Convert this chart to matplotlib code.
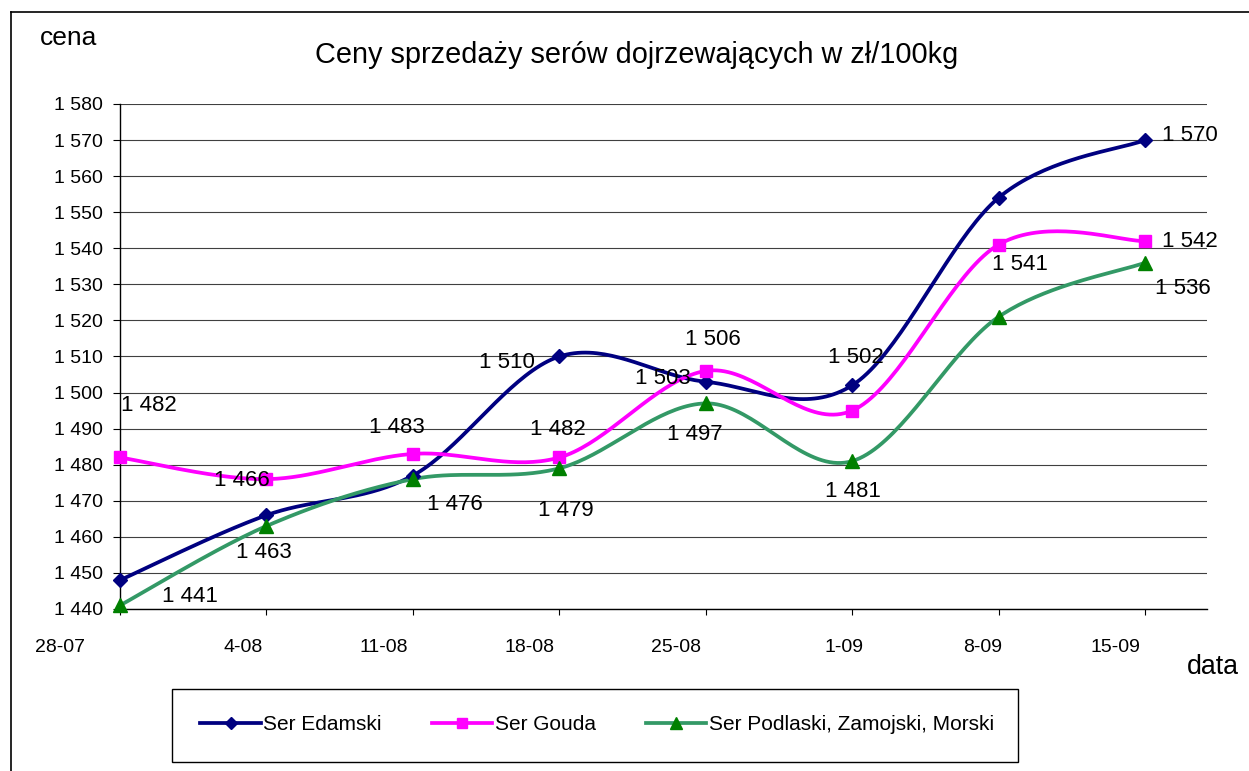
import numpy as np
import matplotlib
matplotlib.use("Agg")
import matplotlib.pyplot as plt
import matplotlib.transforms as mtransforms
from matplotlib.lines import Line2D
from matplotlib.patches import Rectangle

# ---------------- data ----------------
dates = ["28-07", "4-08", "11-08", "18-08", "25-08", "1-09", "8-09", "15-09"]
edamski = [1448, 1466, 1477, 1510, 1503, 1502, 1554, 1570]
gouda = [1482, 1476, 1483, 1482, 1506, 1495, 1541, 1542]
podlaski = [1441, 1463, 1476, 1479, 1497, 1481, 1521, 1536]
series_names = ["Ser Edamski", "Ser Gouda", "Ser Podlaski, Zamojski, Morski"]
title = "Ceny sprzedaży serów dojrzewających w zł/100kg"
y_label = "cena"
x_label = "data"
y_ticks = list(range(1440, 1581, 10))
# which points show a value label (index lists)
labels_edamski = [1, 3, 4, 5, 7]
labels_gouda = [0, 2, 3, 4, 6, 7]
labels_podlaski = [0, 1, 2, 3, 4, 5, 7]

plt.rcParams['font.family'] = ['Liberation Sans', 'DejaVu Sans']

W, H, DPI = 1249, 771, 100
fig = plt.figure(figsize=(W / DPI, H / DPI), dpi=DPI)

def fx(px):
    return px / W

def fy(py):
    return 1 - py / H

ax_l, ax_r, ax_t, ax_b = 120, 1207, 104, 609
ax = fig.add_axes([fx(ax_l), fy(ax_b), (ax_r - ax_l) / W, (ax_b - ax_t) / H])

n = len(dates)
step_px = (1145 - 120) / (n - 1)
ax.set_xlim(0, (ax_r - ax_l) / step_px)
ax.set_ylim(1440, 1580)


def smooth(vals, npts=40):
    P = np.column_stack([np.arange(len(vals), dtype=float), np.asarray(vals, dtype=float)])
    xs, ys = [], []
    t = np.linspace(0, 1, npts)[:, None]
    for i in range(len(P) - 1):
        P0 = P[i - 1] if i > 0 else P[i]
        P1 = P[i]
        P2 = P[i + 1]
        P3 = P[i + 2] if i + 2 < len(P) else P[i + 1]
        C1 = P1 + (P2 - P0) / 6.0
        C2 = P2 - (P3 - P1) / 6.0
        B = ((1 - t) ** 3) * P1 + 3 * ((1 - t) ** 2) * t * C1 + 3 * (1 - t) * t ** 2 * C2 + t ** 3 * P2
        xs.append(B[:, 0])
        ys.append(B[:, 1])
    return np.concatenate(xs), np.concatenate(ys)


styles = [
    dict(color="#000080", mcolor="#000080", marker="D", ms=7.5),
    dict(color="#FF00FF", mcolor="#FF00FF", marker="s", ms=9),
    dict(color="#339966", mcolor="#008000", marker="^", ms=10),
]
all_series = [edamski, gouda, podlaski]
lw = 2.7
xi = np.arange(n)
handles = []
for vals, st, name in zip(all_series, styles, series_names):
    sx, sy = smooth(vals)
    ax.plot(sx, sy, color=st["color"], lw=lw, solid_capstyle="round", clip_on=False, zorder=3)
    ax.plot(xi, vals, linestyle="none", marker=st["marker"], ms=st["ms"],
            color=st["mcolor"], mec=st["mcolor"], clip_on=False, zorder=4)
    handles.append(Line2D([], [], color=st["color"], lw=lw, marker=st["marker"],
                          ms=st["ms"] * 0.8, mfc=st["mcolor"], mec=st["mcolor"]))

# value labels (offsets in pixels, y upward)
def fmt(v):
    return f"{v:,}".replace(",", " ")

offs_ed = {1: (-25, 35), 3: (-52, -6), 4: (-43, 3), 5: (4, 28), 7: (45, 5)}
offs_go = {0: (29, 52), 2: (-16, 26), 3: (-1, 28), 4: (7, 31), 6: (21, -20), 7: (45, 0)}
offs_po = {0: (70, 9), 1: (-3, -26), 2: (42, -25), 3: (7, -42), 4: (-11, -31), 5: (1, -30), 7: (38, -26)}
for vals, idxs, offs in [(edamski, labels_edamski, offs_ed),
                         (gouda, labels_gouda, offs_go),
                         (podlaski, labels_podlaski, offs_po)]:
    for i in idxs:
        dx, dy = offs[i]
        ax.annotate(fmt(vals[i]), xy=(i, vals[i]), xytext=(dx, dy),
                    textcoords="offset pixels", ha="center", va="center",
                    fontsize=16, color="black", zorder=5, annotation_clip=False)

# axes styling
for s in ["top", "right"]:
    ax.spines[s].set_visible(False)
for s in ["left", "bottom"]:
    ax.spines[s].set_color("black")
    ax.spines[s].set_linewidth(1.0)
ax.set_yticks(y_ticks)
ax.set_yticklabels([fmt(v) for v in y_ticks], fontsize=14)
ax.tick_params(axis="y", direction="out", length=5, width=0.8, pad=7.5, colors="black")
ax.yaxis.grid(True, color="#404040", lw=0.8)
ax.set_axisbelow(True)
ax.set_xticks(xi)
ax.set_xticklabels([])
ax.tick_params(axis="x", direction="out", length=4, width=0.8, colors="black")

# x tick labels with Excel-like offsets (pixels)
x_offs = [-60, -23, -29, -30, -30, -8, -16, -30]
for i, (d, dx) in enumerate(zip(dates, x_offs)):
    tr = mtransforms.blended_transform_factory(ax.transData, ax.transAxes) + \
        mtransforms.ScaledTranslation(dx / DPI, 0, fig.dpi_scale_trans)
    ax.text(i, (ax_b - 647) / (ax_b - ax_t), d, transform=tr, ha="center", va="center", fontsize=14)

# titles
fig.text(fx(637), fy(63), title, ha="center", va="baseline", fontsize=20.8)
fig.text(fx(40), fy(45), y_label, ha="left", va="baseline", fontsize=19)
fig.text(fx(1187), fy(674), x_label, ha="left", va="baseline", fontsize=19.3)

# legend
fig.patches.append(Rectangle((fx(172), fy(762)), (1018 - 172) / W, (762 - 689) / H,
                             transform=fig.transFigure, fill=False, ec="black", lw=1.0))
fig.legend(handles, series_names, loc="center", bbox_to_anchor=(fx(597), fy(725)),
           ncol=3, frameon=False, fontsize=15, handlelength=2.9, handletextpad=0.12,
           columnspacing=2.4)

# outer chart border (left and top edges visible)
fig.add_artist(Line2D([fx(11), fx(11)], [fy(12), 0], transform=fig.transFigure, color="black", lw=1.2))
fig.add_artist(Line2D([fx(11), 1], [fy(12), fy(12)], transform=fig.transFigure, color="black", lw=1.2))

fig.savefig("out.png", dpi=DPI, facecolor="white")
